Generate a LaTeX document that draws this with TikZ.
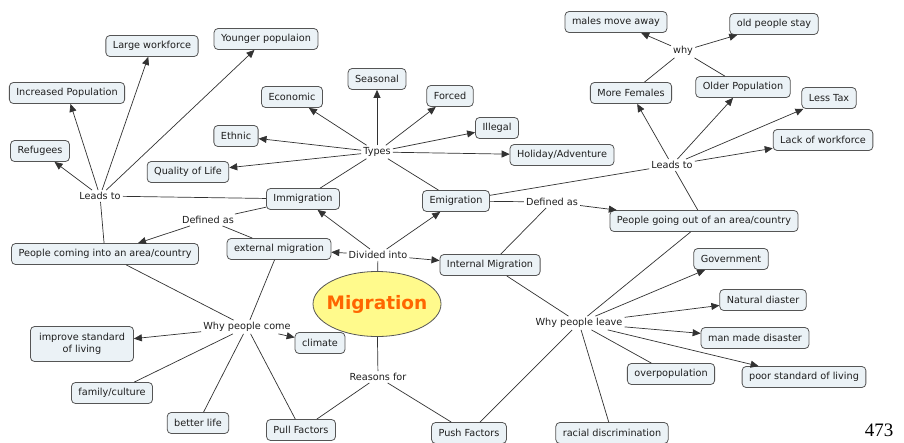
\documentclass[tikz,border=0pt]{standalone}
\usepackage{fontspec}
\setmainfont{DejaVu Sans}
\newfontfamily\numfont{Liberation Serif}
\usetikzlibrary{arrows.meta,shapes.geometric}
\definecolor{boxfill}{RGB}{235,242,246}
\definecolor{boxline}{RGB}{85,85,85}
\definecolor{txt}{RGB}{30,30,30}
\definecolor{linec}{RGB}{50,50,50}
\definecolor{migfill}{RGB}{255,250,140}
\definecolor{migtxt}{RGB}{255,102,0}
\begin{document}
\begin{tikzpicture}[x=1pt,y=-1pt,
 concept/.style={draw=boxline, fill=boxfill, rounded corners=4pt, line width=0.8pt,
   font=\fontsize{9.7}{12}\selectfont, text=txt, minimum height=21pt, inner xsep=7pt, inner ysep=3pt},
 link/.style={font=\fontsize{9.7}{12}\selectfont, text=txt, inner sep=2pt},
 con/.style={draw=linec, line width=0.7pt},
 arr/.style={con, -{Triangle[length=8pt,width=7pt]}},
]
\useasboundingbox (0,0) rectangle (904,442);
\fill[white] (0,0) rectangle (904,442);

% concepts
\node[concept] (young) at (266,39) {Younger populaion};
\node[concept] (large) at (152,46) {Large workforce};
\node[concept] (inc) at (67,93) {Increased Population};
\node[concept] (refug) at (40,151) {Refugees};
\node[concept] (econ) at (292,97) {Economic};
\node[concept] (ethnic) at (236,136) {Ethnic};
\node[concept] (qol) at (188,172) {Quality of Life};
\node[concept] (seas) at (377,79) {Seasonal};
\node[concept] (forced) at (450,96) {Forced};
\node[concept] (illegal) at (497,128) {Illegal};
\node[concept] (holiday) at (562,155) {Holiday/Adventure};
\node[concept] (immig) at (303,199) {Immigration};
\node[concept] (emig) at (456,201) {Emigration};
\node[concept] (males) at (616,22) {males move away};
\node[concept] (oldstay) at (774,24) {old people stay};
\node[concept] (females) at (631,93) {More Females};
\node[concept] (older) at (743,87) {Older Population};
\node[concept] (lesstax) at (829,98) {Less Tax};
\node[concept] (lack) at (823,140) {Lack of workforce};
\node[concept] (pout) at (704,221) {People going out of an area/country};
\node[concept] (pcome) at (105,254) {People coming into an area/country};
\node[concept] (ext) at (279,249) {external migration};
\node[concept] (internal) at (490,265) {Internal Migration};
\node[ellipse, draw=boxline, line width=0.8pt, fill=migfill, minimum width=128pt, minimum height=65pt,
  inner sep=0pt] (mig) at (377,304) {};
\node[font=\bfseries\fontsize{18.5}{21}\selectfont, text=migtxt, inner sep=0pt] (migtext) at (mig.center) {Migration};
\node[concept, align=center, minimum height=35pt, minimum width=103pt] (improve) at (82,344) {improve standard\\of living};
\node[concept] (climate) at (320,343) {climate};
\node[concept] (family) at (112,393) {family/culture};
\node[concept] (better) at (198,423) {better life};
\node[concept] (pull) at (301,430) {Pull Factors};
\node[concept] (push) at (469,433) {Push Factors};
\node[concept] (racial) at (612,433) {racial discrimination};
\node[concept] (gov) at (731,259) {Government};
\node[concept] (natural) at (763,300) {Natural diaster};
\node[concept] (manmade) at (755,338) {man made disaster};
\node[concept] (overpop) at (671,374) {overpopulation};
\node[concept] (poorstd) at (804,377) {poor standard of living};

% linking phrases
\node[link] (lt1) at (100,196) {Leads to};
\node[link] (types) at (377,152) {Types};
\node[link] (def1) at (208,220) {Defined as};
\node[link] (def2) at (552,202) {Defined as};
\node[link] (lt2) at (672,165) {Leads to};
\node[link] (why) at (683,51) {why};
\node[link] (div) at (378,255) {Divided into};
\node[link] (wcome) at (247,327) {Why people come};
\node[link] (reas) at (378,377) {Reasons for};
\node[link] (wleave) at (579,323) {Why people leave};

\node[font=\numfont\fontsize{19}{21}\selectfont, inner sep=0pt] (page) at (879,430) {473};

% connectors
\draw[con] (immig) -- (lt1);
\draw[con] (pcome) -- (lt1);
\foreach \t in {refug,inc,large,young} \draw[arr] (lt1) -- (\t);

\draw[con] (immig) -- (def1);
\draw[con] (ext) -- (def1);
\draw[arr] (def1) -- (pcome);

\draw[con] (immig) -- (types);
\draw[con] (emig) -- (types);
\foreach \t in {econ,seas,forced,illegal,holiday,ethnic,qol} \draw[arr] (types) -- (\t);

\draw[con] (emig) -- (def2);
\draw[con] (internal) -- (def2);
\draw[arr] (def2) -- (pout);

\draw[con] (emig) -- (lt2);
\draw[con] (pout) -- (lt2);
\foreach \t in {females,older,lesstax,lack} \draw[arr] (lt2) -- (\t);

\draw[con] (females) -- (why);
\draw[con] (older) -- (why);
\draw[arr] (why) -- (males);
\draw[arr] (why) -- (oldstay);

\draw[con] (mig) -- (div);
\foreach \t in {ext,internal,immig,emig} \draw[arr] (div) -- (\t);

\draw[con] (pcome) -- (wcome);
\draw[con] (ext) -- (wcome);
\draw[con] (pull) -- (wcome);
\draw[arr] (wcome) -- (improve);
\draw[arr] (wcome) -- (climate);
\draw[con] (wcome) -- (family);
\draw[con] (wcome) -- (better);

\draw[con] (mig) -- (reas);
\draw[con] (reas) -- (pull);
\draw[con] (reas) -- (push);

\draw[con] (internal) -- (wleave);
\draw[con] (pout) -- (wleave);
\draw[con] (push) -- (wleave);
\foreach \t in {gov,natural,manmade,poorstd} \draw[arr] (wleave) -- (\t);
\draw[con] (wleave) -- (overpop);
\draw[con] (wleave) -- (racial);
\end{tikzpicture}
\end{document}
